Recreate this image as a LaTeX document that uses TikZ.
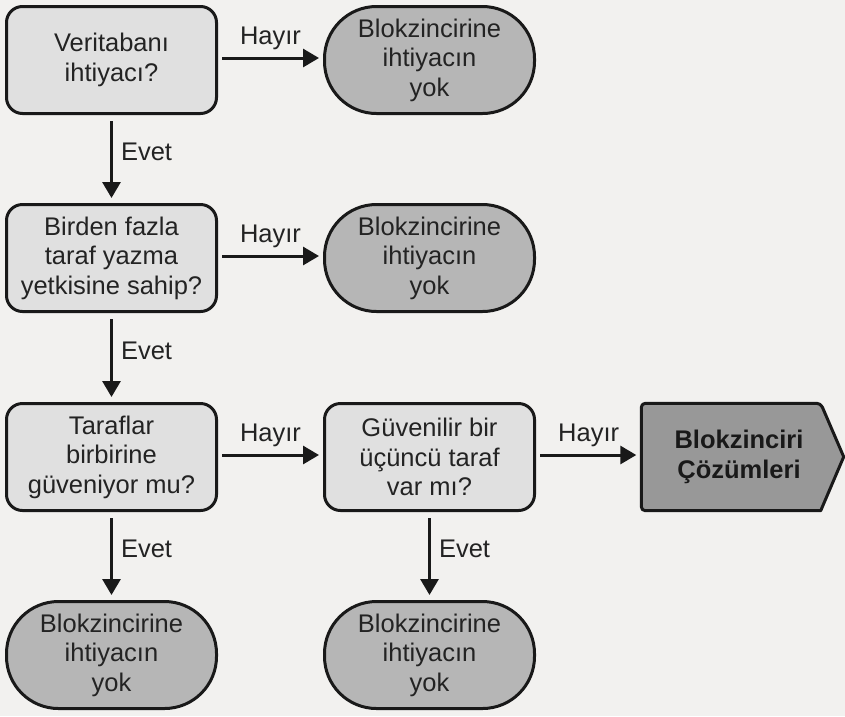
\documentclass[tikz,border=0pt]{standalone}
\usepackage{fontspec}
\setmainfont{Liberation Sans}
\usetikzlibrary{arrows.meta}
\definecolor{paper}{RGB}{242,241,239}
\definecolor{qfill}{RGB}{224,224,224}
\definecolor{tfill}{RGB}{182,182,182}
\definecolor{sfill}{RGB}{152,152,152}
\definecolor{ink}{RGB}{25,25,25}
\definecolor{txtc}{RGB}{35,35,35}
\begin{document}
\begin{tikzpicture}[x=1pt,y=-1pt,
  txt/.style={font=\fontsize{25.5}{29.5}\selectfont, text=txtc, align=center},
  question/.style={txt, draw=ink, line width=3pt, fill=qfill, rounded corners=16pt,
    minimum width=210pt, minimum height=107pt, inner sep=0pt},
  terminal/.style={txt, draw=ink, line width=3pt, fill=tfill, rounded corners=52pt,
    minimum width=210pt, minimum height=107pt, inner sep=0pt},
  flow/.style={draw=ink, line width=3pt, -{Triangle[length=16pt,width=18pt]}},
  lbl/.style={font=\fontsize{25.5}{29.5}\selectfont, text=txtc, inner sep=0pt}
]
\fill[paper] (0,0) rectangle (845,716);
\useasboundingbox (0,0) rectangle (845,716);

% decision boxes
\node[question] (q1) at (111.5,60) {Veritabanı\\ihtiyacı?};
\node[question] (q2) at (111.5,258) {Birden fazla\\taraf yazma\\yetkisine sahip?};
\node[question] (q3) at (111.5,457) {Taraflar\\birbirine\\güveniyor mu?};
\node[question] (q4) at (429.5,457) {Güvenilir bir\\üçüncü taraf\\var mı?};

% terminal ovals
\node[terminal] (t1) at (429.5,60) {Blokzincirine\\ihtiyacın\\yok};
\node[terminal] (t2) at (429.5,258) {Blokzincirine\\ihtiyacın\\yok};
\node[terminal] (t3) at (111.5,655) {Blokzincirine\\ihtiyacın\\yok};
\node[terminal] (t4) at (429.5,655) {Blokzincirine\\ihtiyacın\\yok};

% solution arrow-shaped box
\node[minimum width=179pt, minimum height=107pt, inner sep=0pt] (sol) at (731,457) {};
\draw[ink, line width=3pt, fill=sfill, line join=round]
  (sol.north east) -- ++(23,53.5) -- (sol.south east)
  [rounded corners=4pt] -- (sol.south west) -- (sol.north west) -- cycle;
\node[txt, font=\bfseries\fontsize{25.5}{29.5}\selectfont, text=ink] at ([xshift=8pt]sol.center) {Blokzinciri\\Çözümleri};

% connectors
\draw[flow, shorten <=4pt, shorten >=4pt] ([yshift=2pt]q1.east) -- node[lbl, above=7pt] {Hayır} ([yshift=2pt]t1.west);
\draw[flow, shorten <=4pt, shorten >=4pt] ([yshift=2pt]q2.east) -- node[lbl, above=7pt] {Hayır} ([yshift=2pt]t2.west);
\draw[flow, shorten <=4pt, shorten >=4pt] ([yshift=2pt]q3.east) -- node[lbl, above=7pt] {Hayır} ([yshift=2pt]q4.west);
\draw[flow, shorten <=4pt, shorten >=5pt] ([yshift=2pt]q4.east) -- node[lbl, above=7pt] {Hayır} ([yshift=2pt]sol.west);

\draw[flow, shorten <=6pt, shorten >=5pt] (q1) -- node[lbl, right=8pt, pos=0.42] {Evet} (q2);
\draw[flow, shorten <=6pt, shorten >=5pt] (q2) -- node[lbl, right=8pt, pos=0.42] {Evet} (q3);
\draw[flow, shorten <=6pt, shorten >=5pt] (q3) -- node[lbl, right=8pt, pos=0.42] {Evet} (t3);
\draw[flow, shorten <=6pt, shorten >=5pt] (q4) -- node[lbl, right=8pt, pos=0.42] {Evet} (t4);
\end{tikzpicture}
\end{document}
